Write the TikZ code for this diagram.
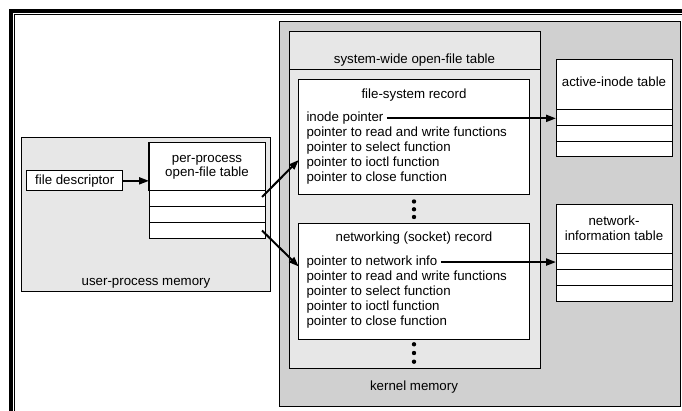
\documentclass[tikz,border=0pt]{standalone}
\usepackage{fontspec}
\setmainfont{Liberation Sans}
\usetikzlibrary{arrows.meta}
\definecolor{kern}{RGB}{208,208,208}
\definecolor{lite}{RGB}{231,231,231}
\begin{document}
\begin{tikzpicture}[x=1pt,y=-1pt,
 box/.style={draw=black, line width=1pt, rectangle, inner sep=0pt, outer sep=0pt, anchor=north west},
 txt/.style={inner sep=0pt, outer sep=0pt, font=\fontsize{13.3}{15}\selectfont},
 arr/.style={line width=2pt, -{Triangle[length=10pt,width=7pt]}},
 dotmark/.style={circle, fill=black, inner sep=0pt, minimum size=4.4pt}]
\useasboundingbox (0,0) rectangle (682,411);
\clip (0,0) rectangle (682,411);
\fill[white] (0,0) rectangle (682,411);
% frame
\draw[line width=4pt] (11,420) -- (11,11) -- (690,11);
\draw[line width=0.9pt] (14.8,420) -- (14.8,14.8) -- (690,14.8);

% kernel memory
\node[box, fill=kern, minimum width=401.5pt, minimum height=385pt] (kern) at (279,21.7) {};
\node[box, fill=lite, minimum width=251pt, minimum height=336.3pt] (sys) at (289,31.7) {};
\draw[line width=1pt] (289,70) -- (540,70);
\node[txt, anchor=base] (systitle) at (414.5,63.5) {system-wide open-file table};

% file-system record
\node[box, fill=white, minimum width=230.3pt, minimum height=115.7pt] (fsr) at (298.7,79.3) {};
\node[txt, anchor=base] (fsrtitle) at (414,98.5) {file-system record};
\node[txt, anchor=base west] (inode) at (306.5,121.8) {inode pointer};
\node[txt, anchor=base west] (fs2) at (306.5,136.7) {pointer to read and write functions};
\node[txt, anchor=base west] (fs3) at (306.5,151.6) {pointer to select function};
\node[txt, anchor=base west] (fs4) at (306.5,166.5) {pointer to ioctl function};
\node[txt, anchor=base west] (fs5) at (306.5,181.4) {pointer to close function};

\node[dotmark] (da1) at (414,201.5) {};
\node[dotmark] (da2) at (414,209.3) {};
\node[dotmark] (da3) at (414,217) {};

% networking record
\node[box, fill=white, minimum width=230.3pt, minimum height=115.5pt] (nr) at (298.7,224) {};
\node[txt, anchor=base] (nrtitle) at (414,241.5) {networking (socket) record};
\node[txt, anchor=base west] (netinfo) at (306.5,265.5) {pointer to network info};
\node[txt, anchor=base west] (nr2) at (306.5,280.4) {pointer to read and write functions};
\node[txt, anchor=base west] (nr3) at (306.5,295.3) {pointer to select function};
\node[txt, anchor=base west] (nr4) at (306.5,310.2) {pointer to ioctl function};
\node[txt, anchor=base west] (nr5) at (306.5,325.1) {pointer to close function};

\node[dotmark] (db1) at (414,344.3) {};
\node[dotmark] (db2) at (414,353) {};
\node[dotmark] (db3) at (414,361.7) {};

\node[txt, anchor=base] (kernlabel) at (414,390.2) {kernel memory};

% active-inode table
\node[box, fill=white, minimum width=116pt, minimum height=49.3pt] (ait) at (556,60) {};
\node[box, fill=white, minimum width=116pt, minimum height=16pt] (ait1) at (556,109.3) {};
\node[box, fill=white, minimum width=116pt, minimum height=16pt] (ait2) at (556,125.3) {};
\node[box, fill=white, minimum width=116pt, minimum height=15.7pt] (ait3) at (556,141.3) {};
\node[txt, anchor=base] (aitlabel) at (614,86.5) {active-inode table};

% network-information table
\node[box, fill=white, minimum width=116pt, minimum height=49pt] (nit) at (556,205) {};
\node[box, fill=white, minimum width=116pt, minimum height=16pt] (nit1) at (556,254) {};
\node[box, fill=white, minimum width=116pt, minimum height=16pt] (nit2) at (556,270) {};
\node[box, fill=white, minimum width=116pt, minimum height=15.7pt] (nit3) at (556,286) {};
\node[txt, anchor=base] (nitlabela) at (614,225.2) {network-};
\node[txt, anchor=base] (nitlabelb) at (614,240.2) {information table};

% user-process memory
\node[box, fill=lite, minimum width=248.3pt, minimum height=154.4pt] (upm) at (21.7,137.3) {};
\node[txt, anchor=base] (upmlabel) at (146,285.2) {user-process memory};
\node[box, fill=white, line width=1.4pt, minimum width=116.7pt, minimum height=48pt] (pp) at (149,142.7) {};
\node[box, fill=white, minimum width=116.7pt, minimum height=16pt] (pp1) at (149,190.7) {};
\node[box, fill=white, minimum width=116.7pt, minimum height=16pt] (pp2) at (149,206.7) {};
\node[box, fill=white, minimum width=116.7pt, minimum height=15.6pt] (pp3) at (149,222.7) {};
\node[txt, anchor=base] (pplabela) at (207,162.5) {per-process};
\node[txt, anchor=base] (pplabelb) at (207,176.8) {open-file table};
\node[box, fill=white, minimum width=96pt, minimum height=19.7pt, font=\fontsize{13.3}{15}\selectfont] (fd) at (26.7,171) {file descriptor};

% connectors
\draw[arr] (fd.east) -- (fd.east -| pp.west);
\coordinate (s1) at (262,197);
\coordinate (e1) at (298.7,160);
\coordinate (s2) at (262,230.5);
\coordinate (e2) at (298.7,266.5);
\draw[arr] (s1) -- (e1);
\draw[arr] (s2) -- (e2);
\draw[arr] ([xshift=3.5pt]inode.east) -- (inode.east -| ait1.west);
\draw[arr] ([xshift=3.5pt]netinfo.east) -- (netinfo.east -| nit1.west);
\end{tikzpicture}
\end{document}
